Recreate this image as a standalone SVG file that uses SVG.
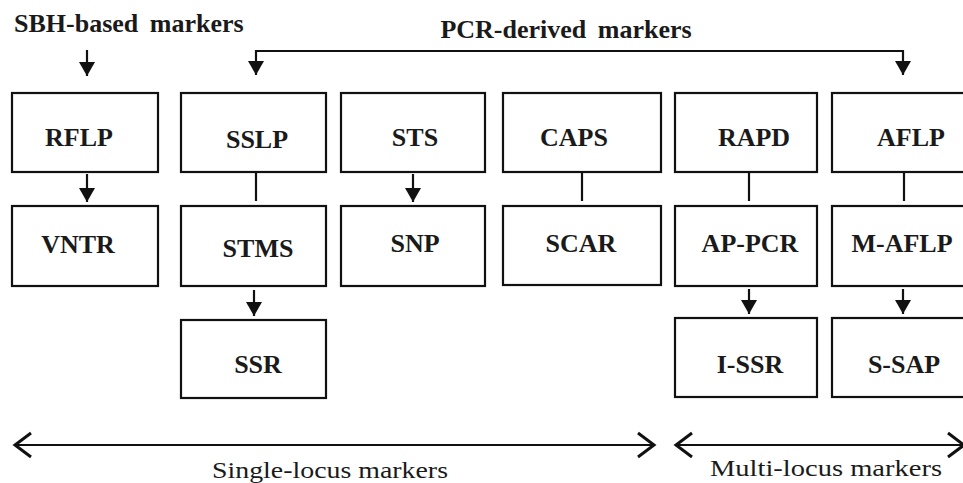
<svg xmlns="http://www.w3.org/2000/svg" width="963" height="483" viewBox="0 0 963 483">
<style>
.box{fill:#fff;stroke:#111;stroke-width:2.2}
.lbl{font-family:'Liberation Serif',serif;font-weight:bold;font-size:26px;fill:#1a1a1a;text-anchor:middle}
.hdr{font-family:'Liberation Serif',serif;font-weight:bold;font-size:26px;fill:#1a1a1a;word-spacing:5px}
.cap{font-family:'Liberation Serif',serif;font-size:23px;fill:#1a1a1a}
.ln{fill:none;stroke:#111;stroke-width:2.2}
.chev{fill:none;stroke:#111;stroke-width:3;stroke-linejoin:miter}
</style>
<defs>
<marker id="tri" markerUnits="userSpaceOnUse" markerWidth="18" markerHeight="16" refX="8" refY="14" orient="0" viewBox="0 0 16 16">
<path d="M0,0 L16,0 L8,14 Z" fill="#111"/>
</marker>
</defs>
<rect width="963" height="483" fill="#fff"/>
<text class="hdr" x="14" y="32">SBH-based markers</text>
<text class="hdr" x="566" y="38" text-anchor="middle">PCR-derived markers</text>

<g id="connectors">
<line class="ln" x1="87" y1="50" x2="87" y2="76" marker-end="url(#tri)"/>
<polyline class="ln" points="256,75 256,51 903,51 903,75"/>
<path d="M248,61 L264,61 L256,75 Z" fill="#111"/>
<path d="M895,61 L911,61 L903,75 Z" fill="#111"/>
<line class="ln" x1="87" y1="174" x2="87" y2="202" marker-end="url(#tri)"/>
<line class="ln" x1="256" y1="172" x2="256" y2="201"/>
<line class="ln" x1="413" y1="174" x2="413" y2="202" marker-end="url(#tri)"/>
<line class="ln" x1="582" y1="172" x2="582" y2="201"/>
<line class="ln" x1="749" y1="172" x2="749" y2="201"/>
<line class="ln" x1="904" y1="172" x2="904" y2="201"/>
<line class="ln" x1="254" y1="290" x2="254" y2="316" marker-end="url(#tri)"/>
<line class="ln" x1="749" y1="289" x2="749" y2="314" marker-end="url(#tri)"/>
<line class="ln" x1="903" y1="289" x2="903" y2="314" marker-end="url(#tri)"/>
<line class="ln" x1="15" y1="445" x2="653" y2="445" stroke-width="2.6"/>
<polyline class="chev" points="31,433 15,445 31,457"/>
<polyline class="chev" points="638,433 654,445 638,457"/>
<line class="ln" x1="677" y1="445" x2="963" y2="445" stroke-width="2.6"/>
<polyline class="chev" points="692,433 676,445 692,457"/>
<polyline class="chev" points="948,433 964,445 948,457"/>
</g>

<g id="n-rflp"><rect class="box" x="12" y="93" width="146" height="79"/><text class="lbl" x="79" y="146">RFLP</text></g>
<g id="n-sslp"><rect class="box" x="181" y="93" width="145" height="79"/><text class="lbl" x="257" y="148">SSLP</text></g>
<g id="n-sts"><rect class="box" x="341" y="93" width="144" height="79"/><text class="lbl" x="415" y="146">STS</text></g>
<g id="n-caps"><rect class="box" x="503" y="93" width="158" height="79"/><text class="lbl" x="574" y="146">CAPS</text></g>
<g id="n-rapd"><rect class="box" x="675" y="93" width="142" height="79"/><text class="lbl" x="754" y="146">RAPD</text></g>
<g id="n-aflp"><rect class="box" x="832" y="93" width="140" height="79"/><text class="lbl" x="911" y="146">AFLP</text></g>

<g id="n-vntr"><rect class="box" x="12" y="206" width="146" height="80"/><text class="lbl" x="78" y="253">VNTR</text></g>
<g id="n-stms"><rect class="box" x="181" y="206" width="145" height="80"/><text class="lbl" x="258" y="257">STMS</text></g>
<g id="n-snp"><rect class="box" x="341" y="206" width="144" height="80"/><text class="lbl" x="415" y="252">SNP</text></g>
<g id="n-scar"><rect class="box" x="503" y="206" width="158" height="79"/><text class="lbl" x="581" y="252">SCAR</text></g>
<g id="n-appcr"><rect class="box" x="675" y="206" width="142" height="80"/><text class="lbl" x="750" y="252">AP-PCR</text></g>
<g id="n-maflp"><rect class="box" x="832" y="206" width="140" height="80"/><text class="lbl" x="902" y="252">M-AFLP</text></g>

<g id="n-ssr"><rect class="box" x="181" y="320" width="145" height="78"/><text class="lbl" x="258" y="373">SSR</text></g>
<g id="n-issr"><rect class="box" x="675" y="318" width="142" height="79"/><text class="lbl" x="750" y="373">I-SSR</text></g>
<g id="n-ssap"><rect class="box" x="832" y="318" width="140" height="79"/><text class="lbl" x="904" y="373">S-SAP</text></g>

<text class="cap" x="212" y="478" textLength="236" lengthAdjust="spacingAndGlyphs">Single-locus markers</text>
<text class="cap" x="710" y="476" textLength="232" lengthAdjust="spacingAndGlyphs">Multi-locus markers</text>
</svg>
